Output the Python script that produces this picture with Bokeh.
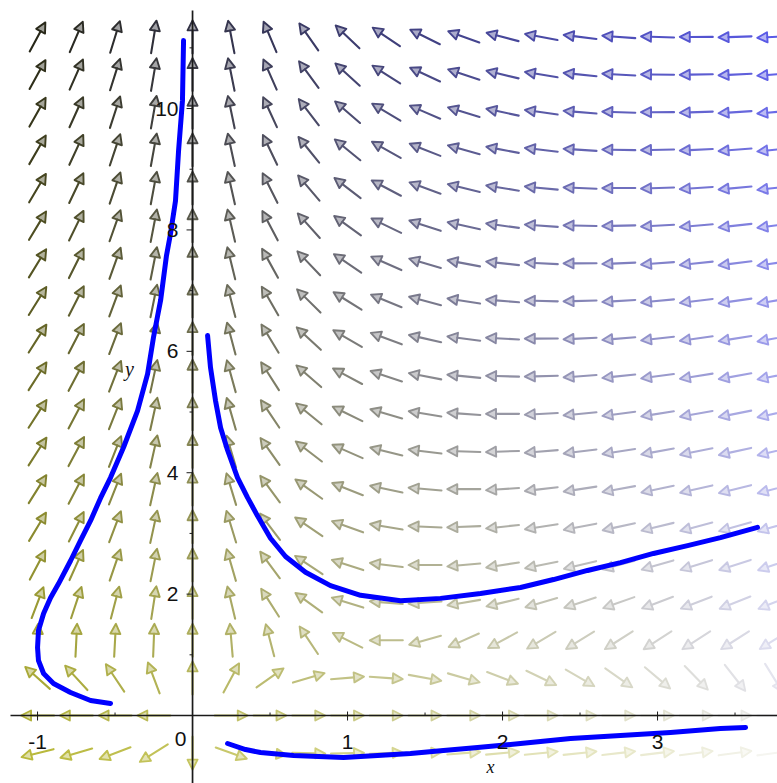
import numpy as np
from bokeh.plotting import figure
from bokeh.models import Range1d
from bokeh.embed import file_html
from bokeh.resources import INLINE
from bokeh.core.properties import value

# ---------------- data ----------------
# direction-field grid (20 x 20)
x_grid = [-1.0, -0.75, -0.5, -0.25, 0.0, 0.25, 0.5, 0.75, 1.0, 1.25,
          1.5, 1.75, 2.0, 2.25, 2.5, 2.75, 3.0, 3.25, 3.5, 3.75]
y_grid = [-0.62, 0.0, 0.62, 1.24, 1.86, 2.48, 3.11, 3.73, 4.35, 4.97,
          5.59, 6.21, 6.83, 7.45, 8.07, 8.69, 9.32, 9.94, 10.56, 11.18]

# estimated system:  x' = x*(A - y - B*x),  y' = y*(1 - x + C*y)
SYS_A, SYS_B, SYS_C = 1.1, 0.1, 0.2

# solution curves
curve_a_x = [-0.529, -0.658, -0.787, -0.897, -0.961, -0.994, -1.0, -0.994, -0.961, -0.916,
             -0.865, -0.787, -0.723, -0.658, -0.594, -0.529, -0.445, -0.355, -0.290, -0.252,
             -0.206, -0.168, -0.142, -0.110, -0.090, -0.065, -0.058]
curve_a_y = [0.198, 0.247, 0.379, 0.527, 0.692, 0.906, 1.12, 1.40, 1.68, 1.94,
             2.17, 2.55, 2.88, 3.21, 3.58, 3.92, 4.42, 5.02, 5.63, 6.23,
             6.84, 7.58, 7.94, 8.48, 9.31, 10.13, 11.12]

curve_b_x = [0.097, 0.116, 0.148, 0.181, 0.226, 0.290, 0.355, 0.419, 0.503, 0.600,
             0.729, 0.890, 1.084, 1.342, 1.600, 1.858, 2.116, 2.329, 2.548, 2.761,
             2.974, 3.194, 3.406, 3.645]
curve_b_y = [6.26, 5.73, 5.19, 4.74, 4.37, 3.92, 3.59, 3.29, 2.92, 2.62,
             2.36, 2.14, 1.98, 1.89, 1.93, 2.01, 2.11, 2.24, 2.39, 2.52,
             2.67, 2.80, 2.93, 3.10]

curve_c_x = [0.226, 0.342, 0.439, 0.652, 0.974, 1.194, 1.406, 1.619, 1.839, 2.116,
             2.439, 2.761, 3.084, 3.406, 3.568]
curve_c_y = [-0.461, -0.560, -0.610, -0.659, -0.692, -0.659, -0.626, -0.577, -0.527, -0.461,
             -0.379, -0.329, -0.280, -0.214, -0.198]

x_ticks_major = [-1, 1, 2, 3]
x_tick_labels = ["-1", "1", "2", "3"]
x_ticks_minor = [-0.5, 0.5, 1.5, 2.5, 3.5]
y_ticks_major = [2, 4, 6, 8, 10]
y_tick_labels = ["2", "4", "6", "8", "10"]
y_ticks_minor = [1, 3, 5, 7, 9, 11]

# arrow colours at the corners of the field (lower-left, lower-right, upper-left, upper-right)
col_ll = (185, 185, 60)
col_lr = (245, 245, 240)
col_ul = (40, 40, 25)
col_ur = (90, 90, 230)

# ---------------- figure ----------------
W, H = 777, 783
X0, X1 = -1.239, 3.774
Y0, Y1 = -1.12, 11.78
sx = W / (X1 - X0)
sy = H / (Y1 - Y0)

p = figure(frame_width=W, frame_height=H, x_range=Range1d(X0, X1), y_range=Range1d(Y0, Y1),
           output_backend="svg", toolbar_location=None, x_axis_type=None, y_axis_type=None,
           min_border=0)
p.outline_line_color = None
p.background_fill_color = "white"
p.border_fill_color = "white"

# ---- direction field ----
XX, YY = np.meshgrid(np.array(x_grid), np.array(y_grid))
xs = XX.ravel()
ys = YY.ravel()
fx = xs * (SYS_A - ys - SYS_B * xs)
fy = ys * (1 - xs + SYS_C * ys)
pxv = fx * sx
pyv = fy * sy
mag = np.hypot(pxv, pyv)
keep = mag > 1e-9
xs, ys, pxv, pyv, mag = xs[keep], ys[keep], pxv[keep], pyv[keep], mag[keep]
ux, uy = pxv / mag, pyv / mag

L, HL, HW = 33.0, 10.0, 5.0
tail_x = xs - ux * L / 2 / sx
tail_y = ys - uy * L / 2 / sy
tip_x = xs + ux * L / 2 / sx
tip_y = ys + uy * L / 2 / sy
base_x = tip_x - ux * HL / sx
base_y = tip_y - uy * HL / sy
lx = base_x + (-uy) * HW / sx
ly = base_y + ux * HW / sy
rx = base_x - (-uy) * HW / sx
ry = base_y - ux * HW / sy

u = (xs - x_grid[0]) / (x_grid[-1] - x_grid[0])
v = (ys - y_grid[0]) / (y_grid[-1] - y_grid[0])


def mix(ch):
    return ((1 - u) * (1 - v) * col_ll[ch] + u * (1 - v) * col_lr[ch]
            + (1 - u) * v * col_ul[ch] + u * v * col_ur[ch])


R, G, B = mix(0), mix(1), mix(2)
colors = ["#%02x%02x%02x" % (int(np.clip(r, 0, 255)), int(np.clip(g, 0, 255)), int(np.clip(b, 0, 255)))
          for r, g, b in zip(R, G, B)]

p.segment(x0=tail_x, y0=tail_y, x1=base_x, y1=base_y, line_color=colors, line_width=2.1,
          line_cap="round")
p.patches(xs=[[a, b, c] for a, b, c in zip(tip_x, lx, rx)],
          ys=[[a, b, c] for a, b, c in zip(tip_y, ly, ry)],
          fill_color=colors, fill_alpha=0.45, line_color=colors, line_width=1.9,
          line_join="round")

# ---- axes ----
axis_col = "#1a1a1a"
p.segment(x0=[X0 + 10 / sx], y0=[0], x1=[X1], y1=[0], line_color=axis_col, line_width=1.7)
p.segment(x0=[0], y0=[Y0], x1=[0], y1=[Y1 - 10 / sy], line_color=axis_col, line_width=1.7)

p.segment(x0=x_ticks_major, y0=[4 / sy] * len(x_ticks_major),
          x1=x_ticks_major, y1=[-5 / sy] * len(x_ticks_major), line_color=axis_col, line_width=1)
p.segment(x0=x_ticks_minor, y0=[0] * len(x_ticks_minor),
          x1=x_ticks_minor, y1=[3 / sy] * len(x_ticks_minor), line_color=axis_col, line_width=1)
p.segment(x0=[-6 / sx] * len(y_ticks_major), y0=y_ticks_major,
          x1=[0] * len(y_ticks_major), y1=y_ticks_major, line_color=axis_col, line_width=1)
p.segment(x0=[-3 / sx] * len(y_ticks_minor), y0=y_ticks_minor,
          x1=[0] * len(y_ticks_minor), y1=y_ticks_minor, line_color=axis_col, line_width=1)

# ---- solution curves ----
for cx, cy in ((curve_a_x, curve_a_y), (curve_b_x, curve_b_y), (curve_c_x, curve_c_y)):
    p.line(cx, cy, line_color="#0000ff", line_width=5, line_join="round", line_cap="round")

# ---- labels ----
lab_font = value("Liberation Sans")
p.text(x=x_ticks_major, y=[-26 / sy] * len(x_ticks_major), text=x_tick_labels,
       text_font=lab_font, text_font_size="21px", text_align="center", text_baseline="middle",
       text_color="#111111")
p.text(x=[-12 / sx], y=[-23 / sy], text=["0"],
       text_font=lab_font, text_font_size="21px", text_align="center", text_baseline="middle",
       text_color="#111111")
p.text(x=[-14 / sx] * len(y_ticks_major), y=y_ticks_major, text=y_tick_labels,
       text_font=lab_font, text_font_size="21px", text_align="right", text_baseline="middle",
       text_color="#111111")

ser = value("Liberation Serif")
p.text(x=[(490 - 192) / 155], y=[(715 - 766) / 60.7], text=["x"], text_font=ser,
       text_font_style="italic", text_font_size="18px", text_align="center",
       text_baseline="middle", text_color="#111111")
p.text(x=[(129 - 192) / 155], y=[(715 - 368) / 60.7], text=["y"], text_font=ser,
       text_font_style="italic", text_font_size="20px", text_align="center",
       text_baseline="middle", text_color="#111111")

open("out.html", "w").write(file_html(p, INLINE))
